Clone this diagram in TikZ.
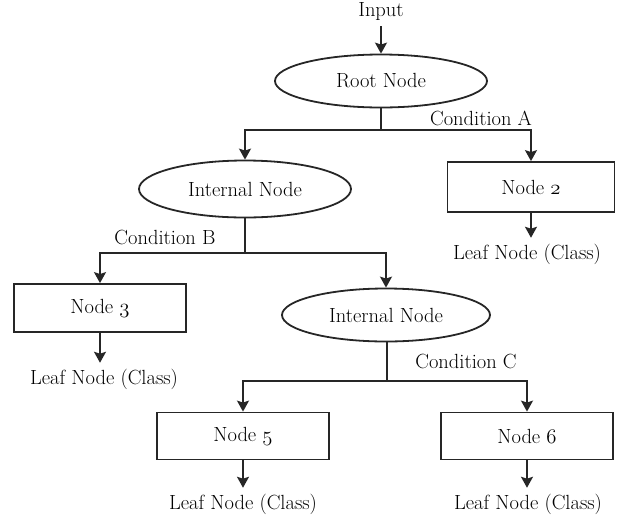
\documentclass[tikz,border=0pt]{standalone}
\usepackage{fontspec}
\usetikzlibrary{shapes.geometric,arrows.meta}
\newcommand\osnum[1]{{\usefont{OML}{cmm}{m}{it}#1}}
\begin{document}
\begin{tikzpicture}[x=1pt,y=-1pt,
  every node/.style={font=\fontsize{20.5}{24}\selectfont},
  line/.style={line width=1.8pt,draw=black!85},
  arr/.style={line, -{Stealth[length=11pt,width=12pt,inset=2pt]}},
  ell/.style={ellipse,draw=black!85,line width=1.8pt,inner sep=0pt},
  box/.style={rectangle,draw=black!85,line width=1.8pt,inner sep=0pt},
  leaf/.style={inner sep=0pt,outer sep=6pt},
  cond/.style={inner sep=0pt,anchor=base}]
\useasboundingbox (0,0) rectangle (630,523);
% nodes
\node[leaf,anchor=base] (input) at (381,16) {Input};
\node[ell,minimum width=212pt,minimum height=53pt] (root) at (381,81) {Root Node};
\node[ell,minimum width=212pt,minimum height=57pt] (int1) at (245,189) {Internal Node};
\node[box,minimum width=167pt,minimum height=50pt] (node2) at (531,187) {Node \osnum{2}};
\node[leaf] (leaf2) at (527,254) {Leaf Node (Class)};
\node[box,minimum width=172pt,minimum height=48pt] (node3) at (100,308) {Node \osnum{3}};
\node[leaf] (leaf3) at (104,379) {Leaf Node (Class)};
\node[ell,minimum width=208pt,minimum height=53pt] (int2) at (386,315) {Internal Node};
\node[box,minimum width=172pt,minimum height=47pt] (node5) at (243,436) {Node \osnum{5}};
\node[box,minimum width=172pt,minimum height=47pt] (node6) at (527,436) {Node \osnum{6}};
\node[leaf] (leaf5) at (243,504) {Leaf Node (Class)};
\node[leaf] (leaf6) at (528,504) {Leaf Node (Class)};
% condition labels
\node[cond] (ca) at (481,125) {Condition A};
\node[cond] (cb) at (165,244) {Condition B};
\node[cond] (cc) at (466,368) {Condition C};
% junctions
\coordinate (j1) at (381,130);
\coordinate (j2) at (245,253);
\coordinate (j3) at (387,381);
% connectors
\draw[arr] (input.south) -- (root.north);
\draw[line] (root.south) -- (j1);
\draw[arr] (j1) -| (int1.north);
\draw[arr] (j1) -| (node2.north);
\draw[arr] (node2.south) -- (node2.south |- leaf2.north);
\draw[line] (int1.south) -- (j2);
\draw[arr] (j2) -| (node3.north);
\draw[arr] (j2) -| (int2.north);
\draw[arr] (node3.south) -- (node3.south |- leaf3.north);
\draw[line] (int2.south -| j3) -- (j3);
\draw[arr] (j3) -| (node5.north);
\draw[arr] (j3) -| (node6.north);
\draw[arr] (node5.south) -- (node5.south |- leaf5.north);
\draw[arr] (node6.south) -- (node6.south |- leaf6.north);
\end{tikzpicture}
\end{document}
